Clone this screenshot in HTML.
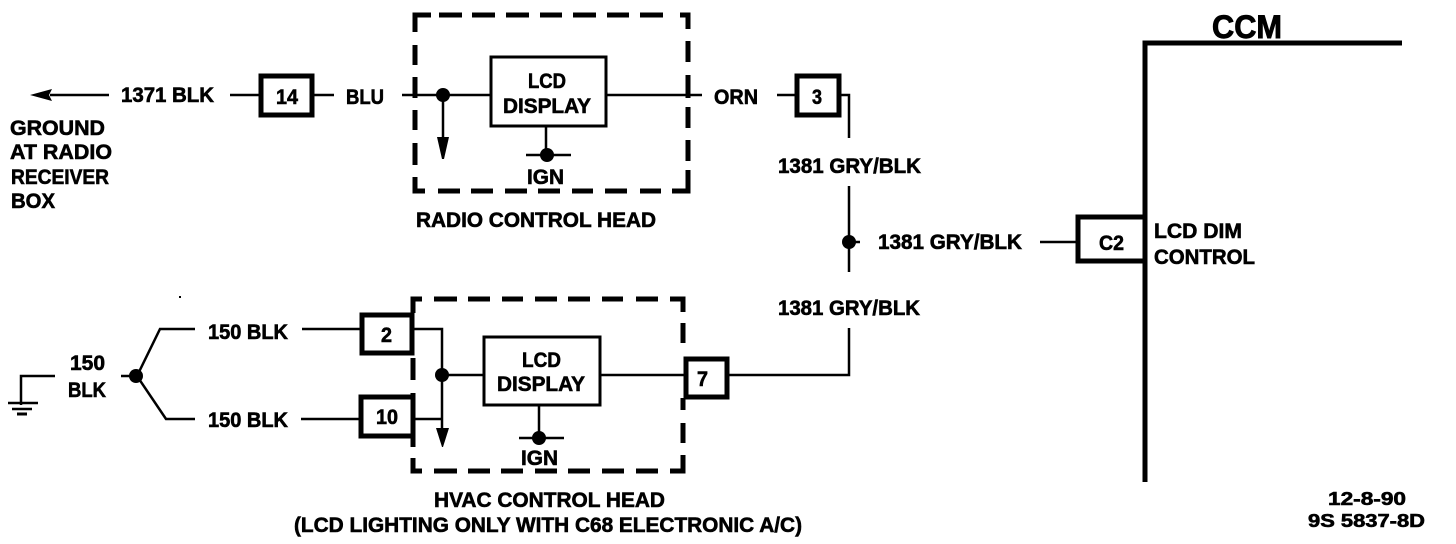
<!DOCTYPE html>
<html><head><meta charset="utf-8"><style>
html,body{margin:0;padding:0;background:#fff}
svg{display:block}
text{font-family:"Liberation Sans",sans-serif;font-weight:bold;font-size:21px;fill:#000;stroke:#000;stroke-width:.6}
.s{font-size:18px}
.b{font-size:32px;stroke-width:.9}
.w{fill:none;stroke:#000;stroke-width:2.5}
.d{fill:none;stroke:#000;stroke-width:5}
.m{fill:#fff;stroke:#000;stroke-width:5}
.t{fill:none;stroke:#000;stroke-width:3}
</style></head><body>
<svg width="1456" height="544" viewBox="0 0 1456 544" xmlns="http://www.w3.org/2000/svg">
<rect width="1456" height="544" fill="#fff"/>
<!-- top row wires -->
<path class="w" d="M50 95H109M230 95H260M314 95H334M402 95H490M606 95H702M777 95H796M841 95H849V138M849 186V272M849 242H860M1040 242H1077"/>
<polygon points="30,95 52,89 49,95 52,101"/>
<path class="w" d="M443 95V140"/>
<polygon points="437,137 449,137 444,159 442,159"/>
<circle cx="443" cy="95" r="7"/>
<circle cx="849" cy="242" r="7"/>
<!-- radio dashed -->
<path class="d" d="M431 15H415V32M415 45V65M415 77V98M415 110V130M415 143V165M415 177V191H425M438 191H460M471 191H493M505 191H527M538 191H560M572 191H593M605 191H627M640 191H661M672 191H688V170M688 161V140M688 128V107M688 98V75M688 62V41M688 29V15H680M663 15H640M629 15H607M596 15H573M562 15H540M529 15H506M495 15H472M462 15H439"/>
<rect class="t" x="491" y="57" width="115" height="69"/>
<path class="w" d="M546 126V157M526 155H571"/>
<circle cx="547" cy="155" r="7"/>
<!-- connector boxes top -->
<rect class="m" x="261" y="76" width="51" height="39"/>
<rect class="m" x="797" y="76" width="42" height="39"/>
<!-- CCM -->
<path fill="none" stroke="#000" stroke-width="5" d="M1402 43H1145V482"/>
<path fill="none" stroke="#000" stroke-width="5" d="M1145 217H1078V261H1145"/>
<!-- lower wires -->
<path class="w" d="M21 405V376H55M121 376H137L160 329H195M137 376L166 419H195M302 329H361M301 419H360M414 329H442V430M414 419H442M442 375H484M600 375H685M728 375H849V328"/>
<path class="w" d="M8 403H38M12 409H32"/>
<path fill="none" stroke="#000" stroke-width="3" d="M17 414H27"/>
<circle cx="136" cy="376" r="7"/>
<circle cx="442" cy="375" r="7"/>
<polygon points="436,428 449,428 443,447 442,447"/>
<!-- hvac dashed -->
<path class="d" d="M422 299H413V313M413 358V380M413 393V447M413 458V471H422M434 471H457M468 471H490M501 471H523M535 471H557M568 471H590M602 471H624M636 471H658M670 471H683V455M683 443V423M683 410V398M683 343V323M683 312V299H670M658 299H636M623 299H602M590 299H568M557 299H535M523 299H502M490 299H468M457 299H434"/>
<rect class="t" x="484" y="337" width="116" height="68"/>
<path class="w" d="M539 405V438M519 438H564"/>
<circle cx="539" cy="438" r="7"/>
<rect class="m" x="362" y="315" width="50" height="38"/>
<rect class="m" x="361" y="397" width="52" height="39"/>
<rect class="m" x="686" y="359" width="41" height="38"/>
<rect x="179" y="296" width="2" height="2"/>
<!-- text -->
<text x="121" y="102" textLength="93" lengthAdjust="spacingAndGlyphs">1371 BLK</text>
<text x="276" y="104" textLength="22" lengthAdjust="spacingAndGlyphs">14</text>
<text x="346" y="104" textLength="38" lengthAdjust="spacingAndGlyphs">BLU</text>
<text x="10" y="135" textLength="95" lengthAdjust="spacingAndGlyphs">GROUND</text>
<text x="10" y="159" textLength="102" lengthAdjust="spacingAndGlyphs">AT RADIO</text>
<text x="11" y="184" textLength="98" lengthAdjust="spacingAndGlyphs">RECEIVER</text>
<text x="11" y="208" textLength="44" lengthAdjust="spacingAndGlyphs">BOX</text>
<text x="528" y="88" textLength="38" lengthAdjust="spacingAndGlyphs">LCD</text>
<text x="503" y="113" textLength="88" lengthAdjust="spacingAndGlyphs">DISPLAY</text>
<text x="527" y="184" textLength="37" lengthAdjust="spacingAndGlyphs">IGN</text>
<text x="416" y="227" textLength="240" lengthAdjust="spacingAndGlyphs">RADIO CONTROL HEAD</text>
<text x="714" y="104" textLength="44" lengthAdjust="spacingAndGlyphs">ORN</text>
<text x="812" y="104" textLength="10" lengthAdjust="spacingAndGlyphs">3</text>
<text x="778" y="173" textLength="143" lengthAdjust="spacingAndGlyphs">1381 GRY/BLK</text>
<text x="878" y="249" textLength="144" lengthAdjust="spacingAndGlyphs">1381 GRY/BLK</text>
<text x="778" y="315" textLength="142" lengthAdjust="spacingAndGlyphs">1381 GRY/BLK</text>
<text x="1099" y="250" textLength="25" lengthAdjust="spacingAndGlyphs">C2</text>
<text class="b" x="1212" y="38" textLength="70" lengthAdjust="spacingAndGlyphs">CCM</text>
<text x="1154" y="238" textLength="88" lengthAdjust="spacingAndGlyphs">LCD DIM</text>
<text x="1154" y="264" textLength="101" lengthAdjust="spacingAndGlyphs">CONTROL</text>
<text x="70" y="370" textLength="35" lengthAdjust="spacingAndGlyphs">150</text>
<text x="68" y="397" textLength="38" lengthAdjust="spacingAndGlyphs">BLK</text>
<text x="208" y="339" textLength="80" lengthAdjust="spacingAndGlyphs">150 BLK</text>
<text x="208" y="427" textLength="80" lengthAdjust="spacingAndGlyphs">150 BLK</text>
<text x="381" y="342" textLength="11" lengthAdjust="spacingAndGlyphs">2</text>
<text x="376" y="424" textLength="22" lengthAdjust="spacingAndGlyphs">10</text>
<text x="522" y="367" textLength="39" lengthAdjust="spacingAndGlyphs">LCD</text>
<text x="497" y="391" textLength="88" lengthAdjust="spacingAndGlyphs">DISPLAY</text>
<text x="697" y="386" textLength="11" lengthAdjust="spacingAndGlyphs">7</text>
<text x="521" y="465" textLength="37" lengthAdjust="spacingAndGlyphs">IGN</text>
<text x="434" y="507" textLength="231" lengthAdjust="spacingAndGlyphs">HVAC CONTROL HEAD</text>
<text x="294" y="532" textLength="508" lengthAdjust="spacingAndGlyphs">(LCD LIGHTING ONLY WITH C68 ELECTRONIC A/C)</text>
<text class="s" x="1328" y="505" textLength="78" lengthAdjust="spacingAndGlyphs">12-8-90</text>
<text class="s" x="1308" y="527" textLength="117" lengthAdjust="spacingAndGlyphs">9S 5837-8D</text>
</svg>
</body></html>
